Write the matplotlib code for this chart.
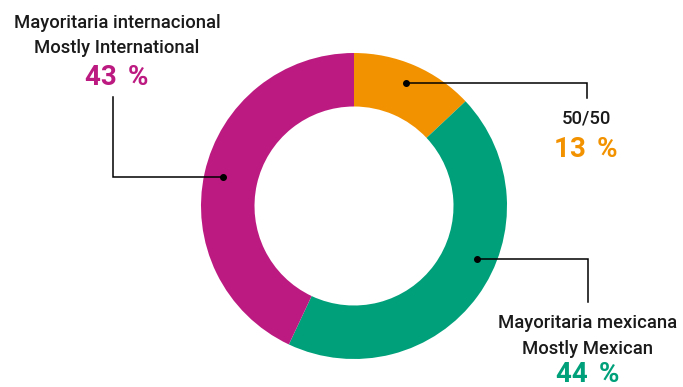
import matplotlib
matplotlib.use("Agg")
import matplotlib.pyplot as plt
import numpy as np

# data
labels_es = ["50/50", "Mayoritaria mexicana", "Mayoritaria internacional"]
labels_en = ["", "Mostly Mexican", "Mostly International"]
shares = [13, 44, 43]
colors = ["#F39200", "#00A07A", "#BC1A80"]

W, H = 683, 387
plt.rcParams['font.family'] = ['Roboto', 'DejaVu Sans']

fig = plt.figure(figsize=(W / 100, H / 100), dpi=100)
ax = fig.add_axes([0, 0, 1, 1])

cx, cy, R = 354, H - 206, 153
wedges, _ = ax.pie(shares, colors=colors, startangle=90, counterclock=False,
                   center=(cx, cy), radius=R,
                   wedgeprops=dict(width=R - 99.5, linewidth=0))
ax.set_xlim(0, W)
ax.set_ylim(0, H)
ax.set_aspect('equal')
ax.axis('off')

# where the leader line starts inside each wedge (fraction along the arc) and its elbow
dot_pos = [0.49, 0.42, 0.50]
dot_r = 134
elbows = [(587, 98), (588, 302), (113, 97)]

for w, f, (ex, ey) in zip(wedges, dot_pos, elbows):
    ang = np.deg2rad(w.theta2 - f * (w.theta2 - w.theta1))
    dx, dy = cx + dot_r * np.cos(ang), cy + dot_r * np.sin(ang)
    ax.plot([dx, ex, ex], [dy, dy, H - ey], color="black", lw=1.1,
            solid_joinstyle='miter')
    ax.plot(dx, dy, 'o', color="black", ms=4)

# text blocks (x center, baselines)
txt = [
    (586, [123.3], 156.7),
    (588, [328.5, 354], 382.5),
    (117, [28.3, 53.3], 85),
]
for i, (tx, lines, pb) in enumerate(txt):
    strs = [labels_es[i], labels_en[i]]
    for s, b in zip(strs, lines):
        ax.text(tx, H - b, s, ha='center', va='baseline', fontsize=13.3,
                fontweight='medium', color="#1a1a1a")
    ax.text(tx, H - pb, f"{shares[i]}\u2009\u2009%", ha='center', va='baseline',
            fontsize=20, fontweight='bold', color=colors[i])

fig.savefig("out.png", dpi=100)
